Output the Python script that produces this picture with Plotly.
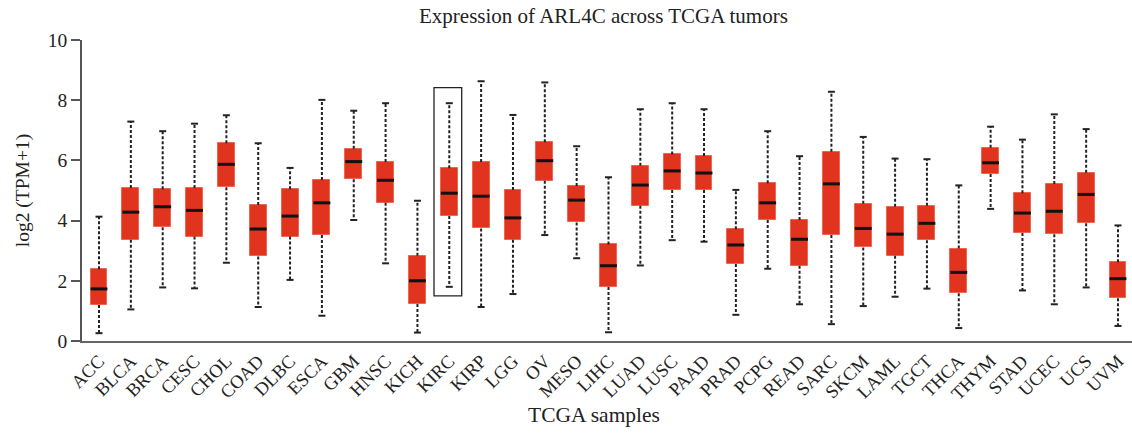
import plotly.graph_objects as go

# TCGA tumor types
cancers = ["ACC", "BLCA", "BRCA", "CESC", "CHOL", "COAD", "DLBC", "ESCA", "GBM", "HNSC",
           "KICH", "KIRC", "KIRP", "LGG", "OV", "MESO", "LIHC", "LUAD", "LUSC", "PAAD",
           "PRAD", "PCPG", "READ", "SARC", "SKCM", "LAML", "TGCT", "THCA", "THYM", "STAD",
           "UCEC", "UCS", "UVM"]

# log2(TPM+1) box statistics per tumor type
upper = [4.13, 7.29, 6.97, 7.22, 7.50, 6.57, 5.75, 8.01, 7.65, 7.90,
         4.66, 7.90, 8.63, 7.51, 8.59, 6.47, 5.44, 7.70, 7.90, 7.70,
         5.02, 6.97, 6.14, 8.28, 6.78, 6.06, 6.04, 5.17, 7.12, 6.69,
         7.53, 7.04, 3.84]
q3 = [2.38, 5.08, 5.04, 5.08, 6.57, 4.52, 5.04, 5.35, 6.39, 5.95,
      2.83, 5.74, 5.95, 5.02, 6.60, 5.15, 3.21, 5.82, 6.20, 6.15,
      3.71, 5.24, 4.02, 6.29, 4.56, 4.46, 4.49, 3.07, 6.42, 4.91,
      5.22, 5.59, 2.62]
median = [1.73, 4.28, 4.46, 4.34, 5.87, 3.72, 4.15, 4.59, 5.96, 5.34,
          2.00, 4.91, 4.81, 4.09, 5.99, 4.68, 2.50, 5.18, 5.65, 5.58,
          3.19, 4.59, 3.38, 5.22, 3.74, 3.55, 3.91, 2.28, 5.92, 4.25,
          4.31, 4.87, 2.07]
q1 = [1.20, 3.36, 3.78, 3.47, 5.11, 2.81, 3.47, 3.52, 5.37, 4.59,
      1.23, 4.15, 3.74, 3.36, 5.32, 3.94, 1.79, 4.49, 5.02, 5.02,
      2.56, 4.02, 2.50, 3.52, 3.11, 2.83, 3.35, 1.59, 5.55, 3.59,
      3.55, 3.91, 1.42]
lower = [0.26, 1.05, 1.78, 1.75, 2.60, 1.13, 2.03, 0.84, 4.02, 2.58,
         0.28, 1.80, 1.13, 1.56, 3.52, 2.75, 0.29, 2.51, 3.35, 3.30,
         0.87, 2.40, 1.22, 0.56, 1.16, 1.47, 1.74, 0.43, 4.39, 1.68,
         1.22, 1.78, 0.50]

highlight = "KIRC"

BOX_W = 0.53
CAP_W = 0.22
RED = "#e0341f"
FONT = "Liberation Serif"

idx = list(range(len(cancers)))

fig = go.Figure()

# dashed whiskers
wx, wy = [], []
for i in idx:
    wx += [i, i, None, i, i, None]
    wy += [q3[i], upper[i], None, q1[i], lower[i], None]
fig.add_trace(go.Scatter(x=wx, y=wy, mode="lines",
                         line=dict(color="#222222", width=2, dash="3px,2px"),
                         hoverinfo="skip", showlegend=False))

# whisker caps
cx, cy = [], []
for i in idx:
    for v in (upper[i], lower[i]):
        cx += [i - CAP_W / 2, i + CAP_W / 2, None]
        cy += [v, v, None]
fig.add_trace(go.Scatter(x=cx, y=cy, mode="lines",
                         line=dict(color="#222222", width=2),
                         hoverinfo="skip", showlegend=False))

# interquartile boxes
fig.add_trace(go.Bar(x=idx, base=q1, y=[q3[i] - q1[i] for i in idx], width=BOX_W,
                     marker=dict(color=RED, line=dict(color="#f0654f", width=1)),
                     hoverinfo="skip", showlegend=False))

# medians
mx, my = [], []
for i in idx:
    mx += [i - BOX_W / 2, i + BOX_W / 2, None]
    my += [median[i], median[i], None]
fig.add_trace(go.Scatter(x=mx, y=my, mode="lines",
                         line=dict(color="#111111", width=3),
                         hoverinfo="skip", showlegend=False))

# frame around the highlighted tumor
k = cancers.index(highlight)
fig.add_shape(type="rect", xref="x", yref="y",
              x0=k - 0.48, x1=k + 0.39, y0=lower[k] - 0.3, y1=upper[k] + 0.52,
              line=dict(color="#222222", width=1.3), fillcolor="rgba(0,0,0,0)")

fig.update_layout(
    width=1132, height=438,
    margin=dict(l=82, r=0, t=40, b=97),
    paper_bgcolor="white", plot_bgcolor="white",
    font=dict(family=FONT, color="#222222"),
    bargap=0,
)

fig.update_xaxes(
    range=[-0.534, 32.44],
    tickmode="array", tickvals=idx, ticktext=cancers,
    tickangle=-45, tickfont=dict(size=18.5, family=FONT),
    ticks="", showline=True, linecolor="#666666", linewidth=2,
    showgrid=False, zeroline=False,
)
fig.update_yaxes(
    range=[0, 10], tickvals=[0, 2, 4, 6, 8, 10],
    tickfont=dict(size=19.5, family=FONT),
    ticks="outside", ticklen=9, tickcolor="#555555", tickwidth=1.5,
    showline=True, linecolor="#555555", linewidth=1.5,
    showgrid=False, zeroline=False,
    title=dict(text="log2 (TPM+1)", font=dict(size=19.5, family=FONT), standoff=13),
)

fig.add_annotation(text="Expression of ARL4C across TCGA tumors",
                   xref="paper", yref="paper", x=(603 - 82) / 1050, y=1.0,
                   yshift=24, showarrow=False, xanchor="center", yanchor="middle",
                   font=dict(size=21, family=FONT, color="#222222"))
fig.add_annotation(text="TCGA samples",
                   xref="paper", yref="paper", x=(594 - 82) / 1050, y=0,
                   yshift=-74, showarrow=False, xanchor="center", yanchor="middle",
                   font=dict(size=21.5, family=FONT, color="#222222"))

fig.write_html("out.html")
